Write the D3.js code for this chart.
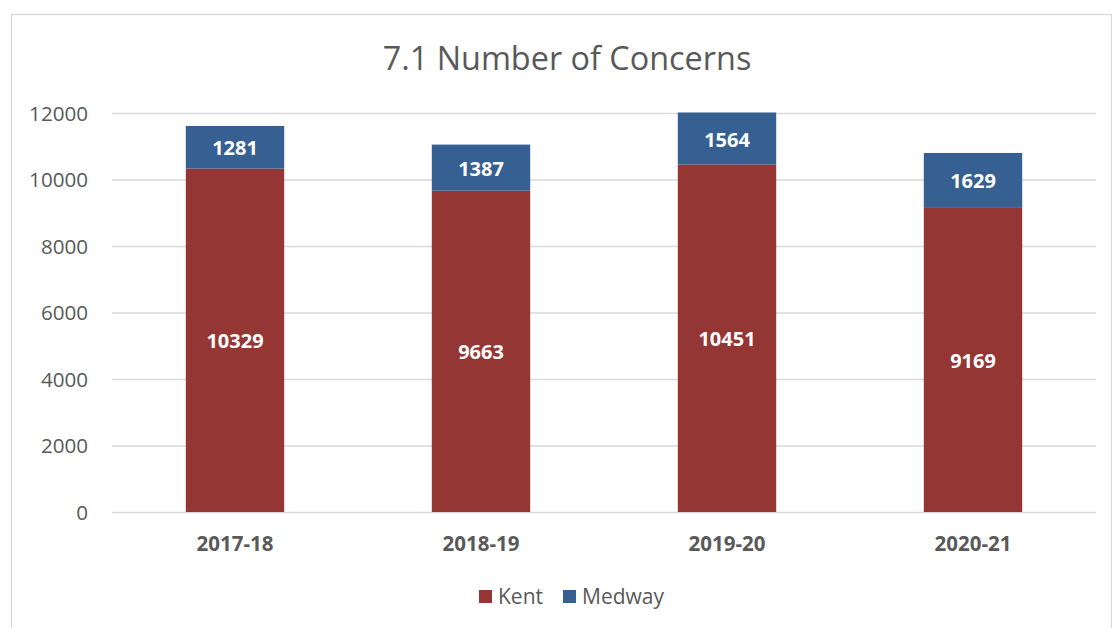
<!DOCTYPE html>
<html><head><meta charset="utf-8">
<script src="https://cdn.jsdelivr.net/npm/d3@7"></script>
<style>body{margin:0;background:#fff}svg{display:block}text{font-family:"Open Sans","Liberation Sans",sans-serif}</style>
</head><body><svg id="c" width="1112" height="628"></svg>
<script>
const categories = ["2017-18","2018-19","2019-20","2020-21"];
const kent = [10329, 9663, 10451, 9169];
const medway = [1281, 1387, 1564, 1629];
const seriesNames = ["Kent","Medway"];
const seriesColors = ["#943634","#366092"];
const yTicks = [0,2000,4000,6000,8000,10000,12000];

const svg = d3.select("#c");
svg.append("rect").attr("x",11.5).attr("y",14.5).attr("width",1100).attr("height",640)
  .attr("fill","#fff").attr("stroke","#d9d9d9").attr("stroke-width",1.3);

const x = d3.scaleBand().domain(categories).range([112,1096]).paddingInner(0.6).paddingOuter(0.3);
const y = d3.scaleLinear().domain([0,12000]).range([512,113]);

svg.append("text").attr("x",567).attr("y",70).attr("text-anchor","middle")
  .attr("font-size",32.4).attr("fill","#595959").text("7.1 Number of Concerns");

const ya = svg.append("g").attr("transform","translate(112,0)")
  .call(d3.axisLeft(y).tickValues(yTicks).tickSize(-984).tickPadding(24).tickFormat(d3.format("d")));
ya.select(".domain").remove();
ya.selectAll("line").attr("stroke","#d9d9d9").attr("stroke-width",1.3);
ya.selectAll("text").attr("font-size",20.6).attr("fill","#595959").attr("dy","0.35em");

const xa = svg.append("g").attr("transform","translate(0,512)")
  .call(d3.axisBottom(x).tickSize(0).tickPadding(29));
xa.select(".domain").remove();
xa.selectAll("text").attr("font-size",20.5).attr("font-weight","bold").attr("fill","#595959").attr("dy","0.5em");

const data = categories.map((c,i)=>({cat:c, Kent:kent[i], Medway:medway[i]}));
const stack = d3.stack().keys(seriesNames)(data);
const color = d3.scaleOrdinal().domain(seriesNames).range(seriesColors);

const g = svg.append("g");
stack.forEach(s=>{
  g.selectAll(null).data(s).join("rect")
    .attr("x",d=>x(d.data.cat)).attr("width",x.bandwidth())
    .attr("y",d=>y(d[1])).attr("height",d=>y(d[0])-y(d[1]))
    .attr("fill",color(s.key));
  g.selectAll(null).data(s).join("text")
    .attr("x",d=>x(d.data.cat)+x.bandwidth()/2)
    .attr("y",d=>(y(d[0])+y(d[1]))/2).attr("dy","0.4em")
    .attr("text-anchor","middle").attr("font-size",20).attr("font-weight","bold")
    .attr("fill","#fff").text(d=>d.data[s.key]);
});

const lg = svg.append("g");
const legendX = [479, 563];
seriesNames.forEach((n,i)=>{
  lg.append("rect").attr("x",legendX[i]).attr("y",590).attr("width",13).attr("height",13).attr("fill",seriesColors[i]);
  lg.append("text").attr("x",legendX[i]+19).attr("y",597).attr("dy","0.35em")
    .attr("font-size",21).attr("fill","#595959").text(n);
});
</script></body></html>
